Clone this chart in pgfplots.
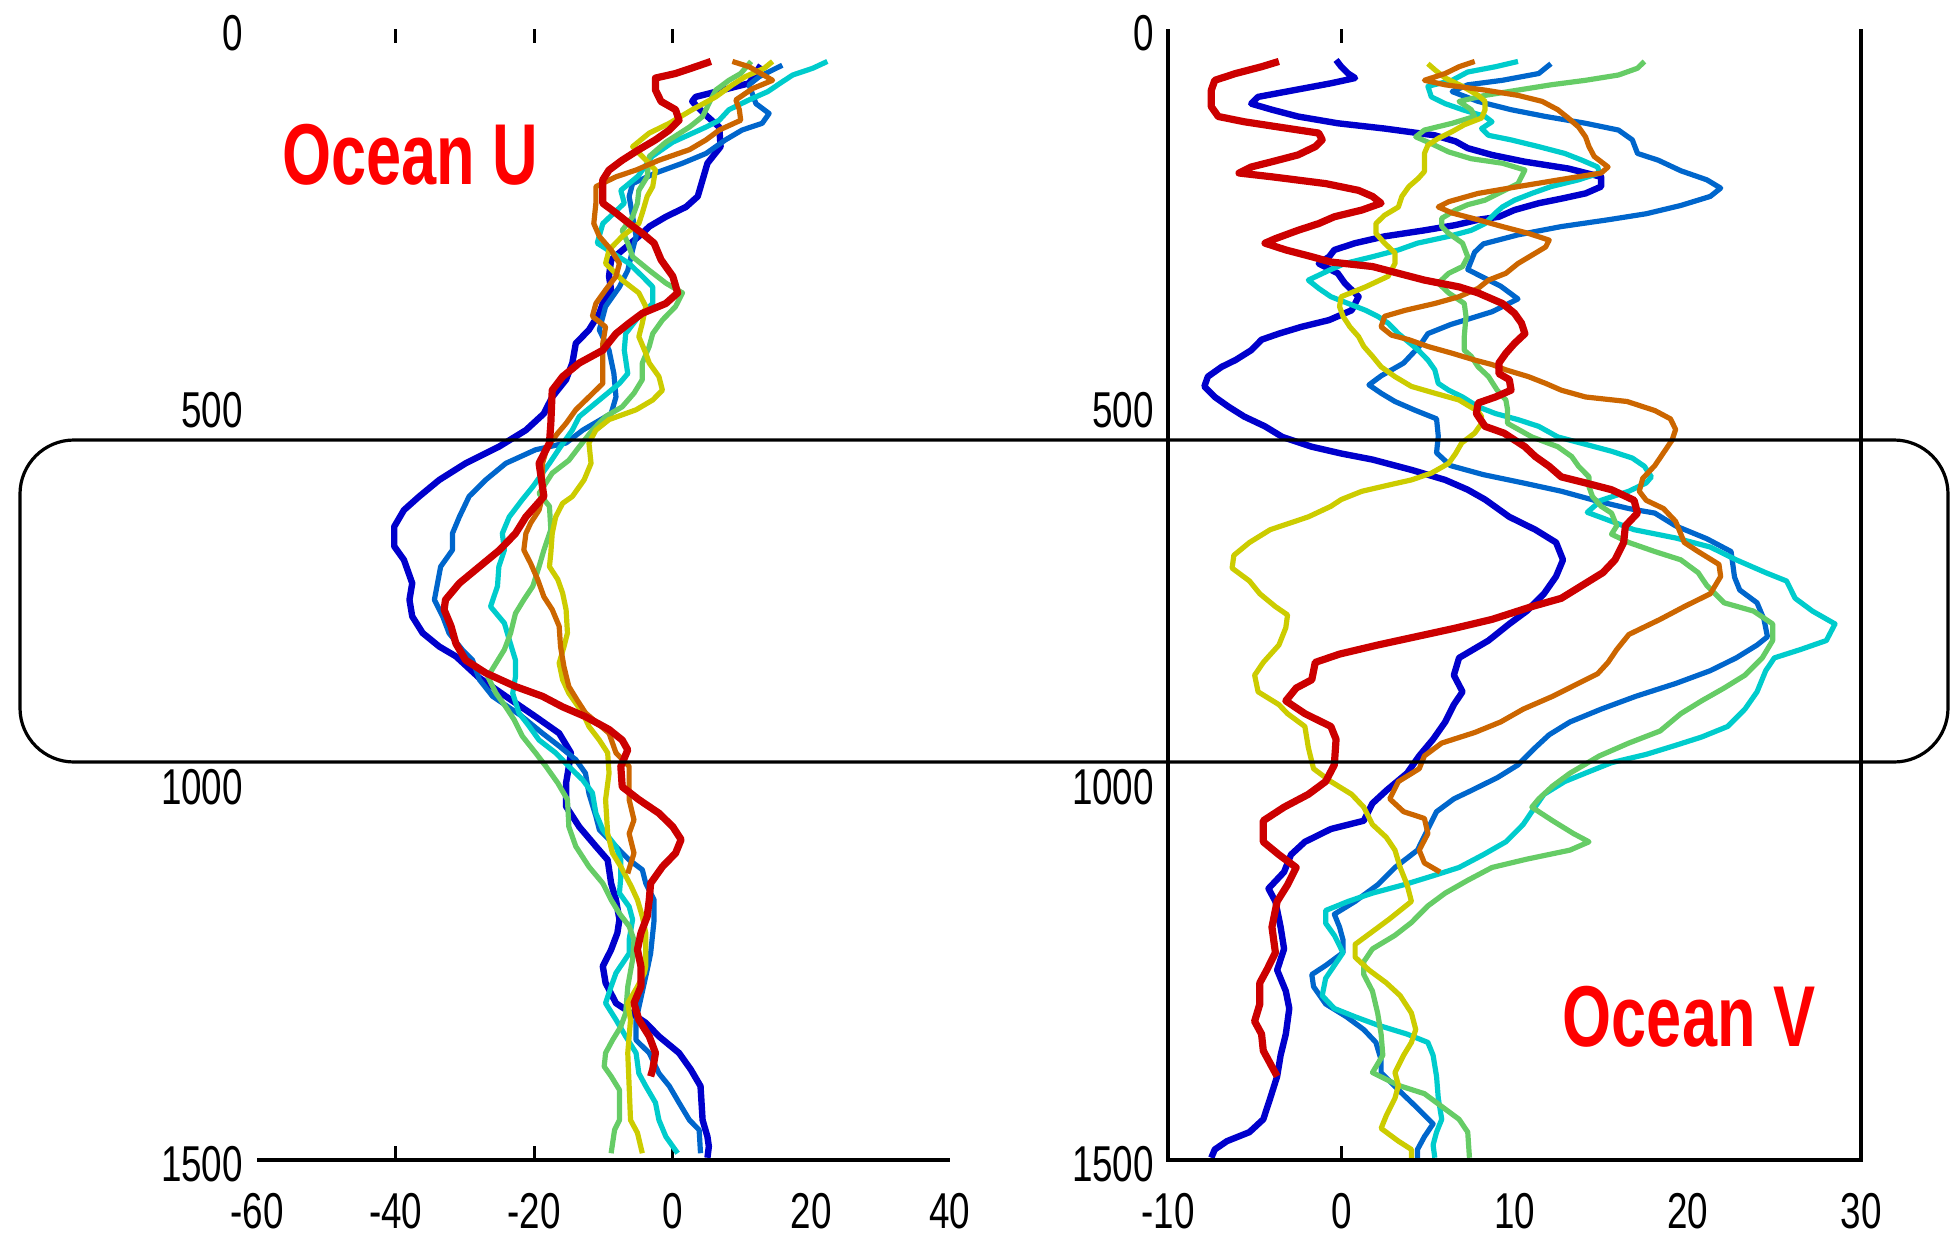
\documentclass[border=0pt]{standalone}
\usepackage{pgfplots}
\pgfplotsset{compat=1.18}
\usepackage{fontspec}
\newfontfamily\narrow[FakeStretch=0.73]{Liberation Sans}
\definecolor{cBa}{RGB}{0,0,204}
\definecolor{cBb}{RGB}{0,102,204}
\definecolor{cC}{RGB}{0,204,204}
\definecolor{cG}{RGB}{102,204,102}
\definecolor{cY}{RGB}{204,204,0}
\definecolor{cO}{RGB}{204,102,0}
\definecolor{cR}{RGB}{204,0,0}
\begin{document}
\begin{tikzpicture}
\useasboundingbox (0,0) rectangle (487.5pt,311.75pt);
\pgfplotsset{
  panel/.style={scale only axis, width=173.25pt, height=282.75pt, anchor=south west,
    ymin=0, ymax=1500, y dir=reverse, clip=false,
    axis line style={draw=none},
    ytick={0,500,1000,1500}, yticklabels={0,500,1000,1500},
    major tick length=0pt,
    tick style={line width=0.8pt, black},
    tick label style={font=\fontsize{12.6}{14}\selectfont\narrow},
    xticklabel style={yshift=-4.8pt},
    yticklabel style={yshift=-1pt},
    extra x tick labels={},
    extra x tick style={major tick length=3.5pt},
    table/row sep=\\,
    every axis plot/.append style={line join=round}},
}
% ---------------- Ocean U ----------------
\begin{axis}[panel, at={(64.25pt,21.75pt)}, xmin=-60, xmax=40,
  xtick={-60,-40,-20,0,20,40}, xticklabels={-60,-40,-20,0,20,40},
  extra x ticks={-40,-20,0}]
\addplot[cBa, line width=1.6pt] table {
12.7 48\\ 11 72\\ 3.3 90\\ 2.8 96\\ 4.5 112\\ 6.7 130\\ 6.9 156\\ 5 178\\ 4.3 200\\ 3.6 222\\ 1.9 236\\ -1 249\\ -3.4 262\\ -4.4 271\\ -8.9 306\\ -9.2 328\\ -8.9 346\\ -10.1 364\\ -10.6 377\\ -12.1 399\\ -14 417\\ -14.5 443\\ -15.4 465\\ -17.4 488\\ -18.6 510\\ -21.2 532\\ -25.1 554\\ -29.9 576\\ -33.7 598\\ -36.6 620\\ -38.8 638\\ -40.2 660\\ -40.2 686\\ -38.8 704\\ -37.6 735\\ -38 757\\ -37.6 779\\ -36.1 801\\ -33.7 819\\ -31.3 832\\ -28 860\\ -24.1 885\\ -19.8 912\\ -16.4 934\\ -14.7 960\\ -15 978\\ -15.4 1000\\ -15.4 1031\\ -13.5 1058\\ -11.1 1084\\ -9.4 1102\\ -8.9 1133\\ -8.2 1155\\ -7.7 1181\\ -8 1199\\ -8.9 1221\\ -10.1 1243\\ -9.7 1265\\ -8.2 1292\\ -3.9 1318\\ -2 1336\\ 0.9 1358\\ 2.6 1380\\ 4 1402\\ 4.3 1447\\ 5 1469\\ 5.2 1482\\ 5 1497\\
};
\addplot[cBb, line width=1.3pt] table {
15.8 48\\ 12.5 63\\ 11 74\\ 12 99\\ 13.9 112\\ 12.9 125\\ 10 134\\ 7.6 147\\ 4.8 165\\ 1.4 178\\ -2.5 191\\ -5.8 205\\ -6.3 222\\ -5.3 275\\ -5.8 293\\ -6.5 320\\ -7.7 342\\ -9.7 368\\ -10.6 399\\ -9.2 426\\ -8.5 457\\ -8.2 488\\ -8.9 510\\ -13 532\\ -15.4 549\\ -19.8 558\\ -24.1 576\\ -27 598\\ -29.4 620\\ -30.8 647\\ -31.8 669\\ -31.8 691\\ -33.5 713\\ -34.4 757\\ -33.2 779\\ -32.3 801\\ -30.4 823\\ -28.9 837\\ -27.9 863\\ -26 885\\ -22 910\\ -18.8 934\\ -16.4 951\\ -14 969\\ -12.6 987\\ -12.1 1014\\ -11.1 1044\\ -10.6 1062\\ -6.3 1102\\ -4.4 1115\\ -3.9 1133\\ -2.7 1155\\ -2.7 1182\\ -3.2 1226\\ -3.7 1248\\ -5.3 1314\\ -5.3 1341\\ -3.4 1358\\ -2 1385\\ -0.5 1402\\ 0.9 1424\\ 2.4 1447\\ 3.8 1460\\ 4 1491\\
};
\addplot[cC, line width=1.3pt] table {
22.3 43\\ 20.2 52\\ 17.3 61\\ 15.8 70\\ 13.7 83\\ 11 94\\ 8.1 107\\ 6.7 121\\ 4.8 130\\ 0 150\\ -3 169\\ -5 195\\ -7.5 214\\ -7 231\\ -10.1 258\\ -10.9 284\\ -6.3 311\\ -4.4 328\\ -2.9 342\\ -2.9 364\\ -4.9 381\\ -6.8 404\\ -7 426\\ -6.5 457\\ -7.7 470\\ -13.5 514\\ -14.5 532\\ -16.2 554\\ -17.8 576\\ -20.2 607\\ -21.7 624\\ -23.6 647\\ -24.6 669\\ -24.3 691\\ -25.1 713\\ -25.3 739\\ -26.3 766\\ -24.3 788\\ -23.6 810\\ -22.7 837\\ -22.7 859\\ -23.1 881\\ -22.2 907\\ -20.7 925\\ -19.3 943\\ -16.9 960\\ -15 978\\ -13 996\\ -11.6 1013\\ -11.1 1040\\ -10.1 1062\\ -8.2 1084\\ -7.5 1102\\ -7.5 1124\\ -7.7 1146\\ -6.3 1164\\ -5.8 1181\\ -6.3 1208\\ -6.3 1226\\ -8.2 1252\\ -8.9 1270\\ -9.7 1292\\ -8.2 1314\\ -6.8 1336\\ -5.3 1358\\ -4.9 1385\\ -3.9 1402\\ -2.5 1424\\ -2 1447\\ -1 1469\\ 0.7 1491\\
};
\addplot[cG, line width=1.3pt] table {
11.3 43\\ 9.8 59\\ 8.1 68\\ 6.2 81\\ 5.2 99\\ 4.3 116\\ 2.4 130\\ -1 150\\ -3.4 169\\ -3.7 196\\ -4.9 214\\ -5.1 231\\ -5.8 249\\ -7.3 267\\ -6.5 284\\ -5.8 302\\ -3.4 320\\ -1 337\\ 1.4 350\\ 0.4 368\\ -1.5 386\\ -2.9 404\\ -3.4 421\\ -4.4 443\\ -4.4 465\\ -5.6 483\\ -7.3 501\\ -9.7 514\\ -11.6 532\\ -13.5 554\\ -15 572\\ -17.4 589\\ -19.3 616\\ -17.8 633\\ -17.6 664\\ -18.6 691\\ -19.3 713\\ -20.2 739\\ -21.5 757\\ -22.7 775\\ -23.4 801\\ -24.3 823\\ -25.5 841\\ -26.7 859\\ -25.5 881\\ -24.1 899\\ -22.9 916\\ -21.7 938\\ -19.8 960\\ -18.3 978\\ -16.6 1000\\ -15.2 1022\\ -15 1058\\ -14 1084\\ -12.1 1111\\ -10.1 1133\\ -8.9 1155\\ -7.7 1173\\ -6.3 1190\\ -5.6 1208\\ -5.8 1234\\ -6.5 1270\\ -6.8 1305\\ -7.5 1323\\ -8.7 1341\\ -9.7 1358\\ -9.9 1376\\ -8.9 1389\\ -7.7 1407\\ -7.7 1447\\ -8.4 1460\\ -8.9 1491\\
};
\addplot[cY, line width=1.3pt] table {
14.4 43\\ 13.2 52\\ 10.5 63\\ 8.6 74\\ 6.2 90\\ 2.8 107\\ -0.5 125\\ -3.4 138\\ -5.8 156\\ -4.4 169\\ -2.5 187\\ -2.9 209\\ -3.7 222\\ -4.4 244\\ -4.9 258\\ -7.3 275\\ -9.2 293\\ -9.7 311\\ -7.3 333\\ -4.9 350\\ -3.9 368\\ -4.4 390\\ -4.9 408\\ -3.9 430\\ -3.4 443\\ -2 461\\ -1.5 479\\ -2.9 492\\ -5.3 505\\ -9.2 518\\ -11.1 532\\ -12.1 549\\ -11.8 576\\ -12.8 598\\ -14.5 620\\ -15.9 629\\ -16.9 647\\ -17.4 669\\ -17.6 695\\ -17.8 713\\ -16.6 730\\ -15.9 748\\ -15.4 770\\ -15.2 801\\ -15.7 819\\ -16.4 841\\ -15.9 863\\ -15 881\\ -13 907\\ -12.1 925\\ -10.6 943\\ -9.4 960\\ -9.2 987\\ -9.7 1022\\ -9.4 1067\\ -8.7 1093\\ -7.5 1111\\ -6 1137\\ -5.1 1155\\ -4.4 1177\\ -3.9 1199\\ -3.9 1243\\ -4.1 1252\\ -5.1 1270\\ -6.5 1292\\ -6.1 1314\\ -6.5 1358\\ -6.3 1402\\ -6.1 1447\\ -5.1 1464\\ -4.4 1491\\
};
\addplot[cO, line width=1.3pt] table {
8.6 43\\ 11 50\\ 14.4 68\\ 11.5 79\\ 9.1 94\\ 9.6 107\\ 9.8 121\\ 6.7 134\\ 4.8 147\\ 2.4 160\\ -2 174\\ -5.3 187\\ -8.2 196\\ -11.1 209\\ -11.1 231\\ -11.4 258\\ -10.6 275\\ -8.9 293\\ -7.7 311\\ -8.2 328\\ -9.7 346\\ -11.1 364\\ -11.6 381\\ -9.7 395\\ -10.1 417\\ -10.1 443\\ -10.1 470\\ -12.1 488\\ -14 505\\ -15.4 523\\ -16.6 536\\ -18.1 554\\ -18.8 576\\ -18.8 620\\ -19.3 638\\ -20.5 655\\ -21.2 669\\ -21.5 691\\ -20.5 709\\ -19.5 730\\ -18.6 753\\ -17.4 770\\ -16.4 792\\ -16.2 819\\ -15.7 846\\ -15 872\\ -13.8 890\\ -12.6 907\\ -9.2 934\\ -8.2 960\\ -6.3 978\\ -6.3 1022\\ -5.6 1049\\ -6.3 1067\\ -5.6 1093\\ -6.5 1120\\
};
\addplot[cR, line width=1.8pt] table {
5.5 43\\ 3.3 50\\ 0.4 59\\ -2.5 65\\ -2.5 81\\ -1.7 96\\ 0.4 107\\ 0.9 121\\ -0.5 134\\ -2.5 147\\ -4.9 160\\ -7.3 174\\ -9.2 187\\ -10.1 200\\ -10.1 231\\ -8.2 244\\ -6.3 258\\ -4.4 271\\ -2.7 284\\ -1.7 306\\ 0 328\\ 0.7 350\\ -1 364\\ -4.4 377\\ -6.3 390\\ -8.2 404\\ -10.1 426\\ -13.5 443\\ -15.9 461\\ -17.4 479\\ -17.6 523\\ -17.8 549\\ -19.3 576\\ -18.6 620\\ -21.2 647\\ -22.7 669\\ -25 691\\ -27.9 713\\ -30.8 735\\ -32.8 757\\ -33 770\\ -32 792\\ -31.3 815\\ -29.9 837\\ -27 854\\ -22.7 872\\ -18.8 885\\ -15.9 899\\ -12.6 912\\ -9.2 929\\ -7.3 943\\ -6.5 956\\ -7.5 978\\ -7.3 1005\\ -4.9 1022\\ -2 1040\\ 0 1058\\ 1.2 1075\\ 0.4 1093\\ -1.5 1111\\ -3.2 1133\\ -3.4 1155\\ -3.7 1177\\ -4.6 1199\\ -5.1 1221\\ -4.6 1243\\ -4.6 1270\\ -5.6 1292\\ -4.9 1314\\ -3.4 1336\\ -2.5 1358\\ -2.9 1380\\ -3.2 1389\\
};
\draw[line width=0.9pt, black] (axis cs:-60,1500) -- (axis cs:40,1500);
\end{axis}
% ---------------- Ocean V ----------------
\begin{axis}[panel, at={(292pt,21.75pt)}, xmin=-10, xmax=30,
  xtick={-10,0,10,20,30}, xticklabels={-10,0,10,20,30},
  extra x ticks={0}]
\addplot[cBa, line width=1.6pt] table {
-0.3 41\\ 0 50\\ 0.4 59\\ 0.8 65\\ -0.6 72\\ -2.7 81\\ -4.8 90\\ -5.2 99\\ -4 107\\ -2.5 116\\ -0.2 125\\ 2.5 132\\ 5.4 141\\ 6.6 149\\ 7.3 158\\ 8.7 167\\ 10.6 176\\ 13.1 185\\ 15 196\\ 15 209\\ 14.1 218\\ 12.7 225\\ 11.4 231\\ 10 240\\ 9.1 249\\ 7.9 253\\ 6.6 260\\ 4.8 267\\ 2.5 275\\ 0.8 284\\ -0.4 293\\ -0.7 302\\ -1.3 311\\ -0.2 324\\ 0.2 337\\ 1 355\\ 0.6 373\\ -0.7 386\\ -2.3 395\\ -3.6 404\\ -4.6 412\\ -5.2 426\\ -6.1 439\\ -6.9 448\\ -7.7 461\\ -7.9 474\\ -7.3 488\\ -6.5 501\\ -5.6 514\\ -4.4 527\\ -3.4 541\\ -1.7 554\\ 0 563\\ 1.8 571\\ 4.1 585\\ 6 598\\ 7.3 611\\ 8.3 624\\ 9.7 647\\ 11.2 664\\ 12.4 681\\ 12.8 704\\ 12.4 726\\ 11.7 749\\ 10.7 772\\ 9.7 789\\ 8.5 811\\ 6.8 834\\ 6.5 857\\ 7 879\\ 6.5 896\\ 6 919\\ 5.3 942\\ 4.5 964\\ 3.8 987\\ 2.6 1010\\ 1.8 1027\\ 1.3 1050\\ -0.6 1061\\ -2.1 1078\\ -2.9 1095\\ -3.3 1118\\ -4.2 1140\\ -3.8 1157\\ -3.5 1191\\ -3.3 1220\\ -3.7 1248\\ -3.2 1276\\ -3 1299\\ -3.2 1333\\ -3.5 1361\\ -3.7 1389\\ -4.1 1418\\ -4.5 1446\\ -5.3 1463\\ -6.6 1475\\ -7.3 1486\\ -7.5 1497\\
};
\addplot[cBb, line width=1.3pt] table {
12.1 46\\ 11.4 59\\ 9.3 68\\ 7.3 74\\ 6.4 83\\ 7.9 96\\ 9.8 107\\ 11.8 116\\ 14.1 125\\ 16 134\\ 16.8 147\\ 17.1 165\\ 18.3 174\\ 19.6 188\\ 21.1 200\\ 21.9 211\\ 21.3 222\\ 19.6 234\\ 17.6 245\\ 15.4 253\\ 12.7 262\\ 10.2 273\\ 8.2 285\\ 7.7 296\\ 7.3 319\\ 9.2 341\\ 10.2 358\\ 8.7 375\\ 6.3 392\\ 5 404\\ 4.5 421\\ 3.6 443\\ 2.3 460\\ 1.6 472\\ 2.3 483\\ 3.1 494\\ 4.3 506\\ 5.5 517\\ 5.6 540\\ 5.5 562\\ 6.3 579\\ 8.2 591\\ 10.5 602\\ 12.7 613\\ 14.6 625\\ 16.6 636\\ 18.1 642\\ 19.3 659\\ 21.1 676\\ 22.5 693\\ 22.7 727\\ 23 744\\ 24 761\\ 24.4 783\\ 24.6 806\\ 24 817\\ 22.8 834\\ 21.3 851\\ 19.3 868\\ 17 885\\ 15 902\\ 13.2 919\\ 12 936\\ 11.2 953\\ 10.2 976\\ 9 993\\ 7.5 1010\\ 6.5 1021\\ 5.5 1038\\ 5 1061\\ 4.4 1089\\ 3.1 1112\\ 2.1 1135\\ 0.8 1157\\ -0.4 1174\\ -0.1 1191\\ 0.1 1208\\ 0.1 1225\\ -0.9 1242\\ -1.7 1254\\ -1.6 1270\\ -0.9 1293\\ 0.3 1310\\ 1.3 1327\\ 2 1344\\ 2.3 1367\\ 2.3 1384\\ 3.3 1407\\ 4.3 1429\\ 5.3 1452\\ 4.8 1469\\ 4.4 1486\\ 4.4 1497\\
};
\addplot[cC, line width=1.3pt] table {
10.2 43\\ 8.9 50\\ 7.3 57\\ 6.4 68\\ 5 76\\ 5.2 90\\ 6 99\\ 7 107\\ 8.3 116\\ 8.7 123\\ 8.1 132\\ 8.5 141\\ 9.8 147\\ 11.4 156\\ 12.9 165\\ 13.9 174\\ 14.8 183\\ 14.9 191\\ 13.7 200\\ 12.1 209\\ 11 218\\ 10 227\\ 9.3 236\\ 8.9 244\\ 8.3 258\\ 7.5 267\\ 6.2 275\\ 4.4 284\\ 3.3 293\\ 1.8 302\\ 0.2 311\\ -0.7 320\\ -1.9 333\\ -1.3 344\\ -0.6 355\\ 0.4 364\\ 1.4 373\\ 2.1 381\\ 2.7 390\\ 3.3 404\\ 4.45 426\\ 5 439\\ 5.4 452\\ 5.6 470\\ 6.2 479\\ 7 488\\ 7.9 501\\ 8.9 510\\ 10.2 518\\ 11.4 527\\ 12.5 541\\ 14.3 552\\ 15.6 560\\ 16.8 569\\ 17.5 580\\ 17.9 594\\ 17.6 602\\ 16.6 613\\ 15 625\\ 14.2 641\\ 16.9 664\\ 19.3 675\\ 21.3 687\\ 22.8 704\\ 24.5 721\\ 25.7 732\\ 26.2 755\\ 27.2 772\\ 28.5 789\\ 28 811\\ 26.5 823\\ 25 834\\ 24.5 851\\ 24 879\\ 23.3 902\\ 22.3 925\\ 20.8 939\\ 19.3 950\\ 17.6 962\\ 15.6 973\\ 14.4 984\\ 12.9 998\\ 11.7 1015\\ 11 1038\\ 10.5 1055\\ 9.5 1078\\ 8.2 1095\\ 6.8 1112\\ 5.3 1123\\ 3.6 1135\\ 1.8 1146\\ 0.4 1157\\ -0.9 1169\\ -0.9 1186\\ -0.4 1202\\ 0.1 1225\\ -0.4 1242\\ -0.9 1259\\ -1.1 1282\\ -0.4 1299\\ 0.8 1310\\ 2.1 1321\\ 3.8 1333\\ 5 1344\\ 5.3 1361\\ 5.5 1389\\ 5.6 1418\\ 5.8 1446\\ 5.5 1463\\ 5.3 1480\\ 5.4 1497\\
};
\addplot[cG, line width=1.3pt] table {
17.5 43\\ 17.1 52\\ 16 61\\ 14.1 68\\ 12.1 74\\ 10.2 81\\ 8.3 88\\ 6.8 96\\ 7.5 107\\ 7.7 116\\ 6.4 125\\ 4.8 134\\ 4.3 143\\ 5.2 152\\ 6.2 163\\ 7.5 172\\ 9.3 178\\ 10.6 187\\ 10.4 196\\ 10.2 205\\ 8.3 227\\ 7.3 233\\ 6.6 240\\ 5.8 251\\ 5.8 262\\ 6.2 271\\ 7 284\\ 7.3 302\\ 7 315\\ 6.2 324\\ 5.6 337\\ 6.2 350\\ 7.1 364\\ 7.2 381\\ 7.1 408\\ 7.1 426\\ 7.5 434\\ 7.9 448\\ 8.5 461\\ 9 479\\ 9.5 492\\ 9.6 505\\ 9.6 523\\ 11 541\\ 12.5 554\\ 13.3 567\\ 13.7 580\\ 14.3 594\\ 14.3 607\\ 14.5 620\\ 15 633\\ 15.6 642\\ 15.9 659\\ 15.6 670\\ 16.6 681\\ 18.1 693\\ 19.6 704\\ 20.6 721\\ 21.1 738\\ 22.1 761\\ 23.8 772\\ 24.9 789\\ 24.9 811\\ 24.3 834\\ 23.3 857\\ 22.1 874\\ 20.8 891\\ 19.6 908\\ 18.4 931\\ 16.6 947\\ 14.9 964\\ 13.2 987\\ 12.2 1004\\ 11.4 1021\\ 11 1032\\ 12.2 1050\\ 13.4 1067\\ 14.3 1078\\ 13.2 1089\\ 10.7 1101\\ 8.7 1112\\ 7.3 1129\\ 6 1146\\ 5 1163\\ 4.05 1185\\ 3.1 1202\\ 1.8 1220\\ 1.3 1237\\ 1.3 1254\\ 1.8 1276\\ 2.1 1305\\ 2.3 1333\\ 2.4 1361\\ 1.8 1384\\ 3.3 1401\\ 4.8 1412\\ 5.8 1429\\ 6.8 1446\\ 7.3 1463\\ 7.4 1497\\
};
\addplot[cY, line width=1.3pt] table {
5 46\\ 5.4 54\\ 6 65\\ 7 76\\ 7.9 88\\ 8.3 96\\ 8.3 107\\ 8.1 118\\ 7.1 127\\ 6.4 136\\ 5.6 145\\ 5 154\\ 4.8 165\\ 4.8 189\\ 4.45 198\\ 3.9 209\\ 3.5 222\\ 3.3 236\\ 2.5 247\\ 2 258\\ 2 271\\ 2.5 284\\ 3.1 297\\ 3.1 311\\ 2.7 328\\ 1.4 342\\ 0 355\\ -0.1 368\\ 0.1 381\\ 0.5 395\\ 1 408\\ 1.3 421\\ 1.8 434\\ 2.3 448\\ 3.1 461\\ 4.05 474\\ 5.4 483\\ 6.8 492\\ 7.3 499\\ 7.9 507\\ 8.1 514\\ 8.1 523\\ 7.7 536\\ 6.95 549\\ 6.6 563\\ 6.2 576\\ 5.2 589\\ 4.05 598\\ 2.7 605\\ 1.2 613\\ 0 624\\ -0.6 633\\ -1.9 647\\ -4.1 664\\ -5.3 681\\ -6.2 698\\ -6.3 715\\ -5.3 732\\ -4.7 749\\ -3.8 766\\ -3.1 777\\ -3.2 794\\ -3.6 817\\ -4.5 840\\ -5 857\\ -4.8 879\\ -3.6 896\\ -3.1 908\\ -2.1 925\\ -1.9 953\\ -1.6 981\\ -0.6 998\\ 0.6 1015\\ 1.3 1032\\ 1.8 1055\\ 2.6 1072\\ 3.1 1089\\ 3.4 1112\\ 3.8 1135\\ 4.05 1157\\ 2.8 1180\\ 1.8 1197\\ 0.8 1214\\ 0.8 1231\\ 1.6 1248\\ 2.6 1265\\ 3.4 1282\\ 4.05 1305\\ 4.3 1327\\ 4.05 1344\\ 3.6 1361\\ 3.1 1384\\ 3.3 1401\\ 3.1 1418\\ 2.6 1441\\ 2.3 1458\\ 3.3 1475\\ 4.05 1486\\ 4.05 1497\\
};
\addplot[cO, line width=1.3pt] table {
7.7 43\\ 6.8 50\\ 6 59\\ 4.8 68\\ 6 74\\ 8.3 81\\ 10.2 88\\ 11.6 96\\ 12.5 107\\ 13.1 118\\ 13.7 130\\ 14.1 143\\ 14.3 156\\ 14.6 169\\ 15.4 183\\ 15 191\\ 13.1 198\\ 10.2 209\\ 7.9 218\\ 6.2 229\\ 5.6 236\\ 6.4 244\\ 7.9 253\\ 9.3 262\\ 10.8 271\\ 12 280\\ 11.8 289\\ 11 300\\ 10.2 311\\ 9.5 324\\ 8.5 333\\ 7.9 344\\ 6.8 355\\ 5.4 364\\ 3.7 373\\ 2.5 381\\ 2.3 395\\ 2.9 406\\ 3.9 412\\ 5 421\\ 6.4 430\\ 7.7 439\\ 8.7 445\\ 9.5 452\\ 10.8 461\\ 11.8 470\\ 12.7 479\\ 14.1 488\\ 16.5 494\\ 18.1 506\\ 19 517\\ 19.3 531\\ 19.1 545\\ 18.6 562\\ 18.1 579\\ 17.4 596\\ 17.2 613\\ 17.6 625\\ 18.6 636\\ 19.3 653\\ 19.8 681\\ 20.6 693\\ 21.8 710\\ 21.9 726\\ 21.3 749\\ 19.8 766\\ 18.4 783\\ 16.6 803\\ 15.9 823\\ 15.4 840\\ 14.8 855\\ 13.5 870\\ 12.2 885\\ 10.5 902\\ 9.2 919\\ 7.7 933\\ 5.8 947\\ 4.8 964\\ 4.5 981\\ 3.3 998\\ 2.8 1021\\ 3.6 1038\\ 4.8 1047\\ 5 1067\\ 4.5 1089\\ 4.8 1106\\ 5.7 1118\\
};
\addplot[cR, line width=1.8pt] table {
-3.6 43\\ -4.6 50\\ -6.1 59\\ -7.3 68\\ -7.5 81\\ -7.5 103\\ -7.1 116\\ -5.6 123\\ -3.6 130\\ -1.3 138\\ -1.1 147\\ -1.5 156\\ -2.5 167\\ -4 176\\ -5.2 183\\ -5.9 191\\ -4 196\\ -0.9 205\\ 1 214\\ 1.8 222\\ 2.3 231\\ 1.2 240\\ -0.4 249\\ -1.3 258\\ -2.5 267\\ -3.8 278\\ -4.4 284\\ -3.2 293\\ -1.7 302\\ -0.6 309\\ 1.8 315\\ 3.3 324\\ 4.8 333\\ 6.8 342\\ 7.9 350\\ 9.3 364\\ 10 377\\ 10.4 390\\ 10.6 404\\ 10 417\\ 9.5 430\\ 9.1 443\\ 9.1 457\\ 9.7 465\\ 9.8 479\\ 8.9 488\\ 7.9 496\\ 7.8 510\\ 8.3 527\\ 9.4 536\\ 10 545\\ 10.6 554\\ 11.2 567\\ 12 580\\ 12.7 594\\ 14.1 602\\ 15.6 611\\ 16.9 625\\ 17.1 642\\ 16.4 659\\ 16.3 681\\ 15.8 704\\ 15.1 721\\ 13.9 738\\ 12.7 755\\ 11 766\\ 8.7 783\\ 6.5 795\\ 4.3 806\\ 2.1 817\\ -0.1 829\\ -1.5 840\\ -1.7 863\\ -2.6 874\\ -3.2 891\\ -2.1 908\\ -0.6 925\\ -0.3 942\\ -0.4 976\\ -0.9 998\\ -1.9 1015\\ -3.3 1032\\ -4.5 1050\\ -4.5 1078\\ -3.6 1095\\ -2.6 1112\\ -3.1 1135\\ -3.7 1157\\ -4 1191\\ -3.8 1225\\ -4.3 1248\\ -4.7 1265\\ -4.7 1293\\ -5 1316\\ -4.6 1333\\ -4.5 1355\\ -4.1 1372\\ -3.7 1389\\
};
\draw[line width=0.9pt, black] (axis cs:-10,0) -- (axis cs:-10,1500) -- (axis cs:30,1500) -- (axis cs:30,0);
\end{axis}
\node[text={rgb,255:red,255;green,0;blue,0}, font=\fontsize{21.6}{24}\selectfont\narrow\bfseries] at (102.5pt,273pt) {Ocean U};
\node[text={rgb,255:red,255;green,0;blue,0}, font=\fontsize{21.6}{24}\selectfont\narrow\bfseries] at (422.25pt,57.5pt) {Ocean V};
\draw[line width=0.8pt, black, rounded corners=13.5pt] (5pt,121.25pt) rectangle (487pt,201.75pt);
\end{tikzpicture}
\end{document}
